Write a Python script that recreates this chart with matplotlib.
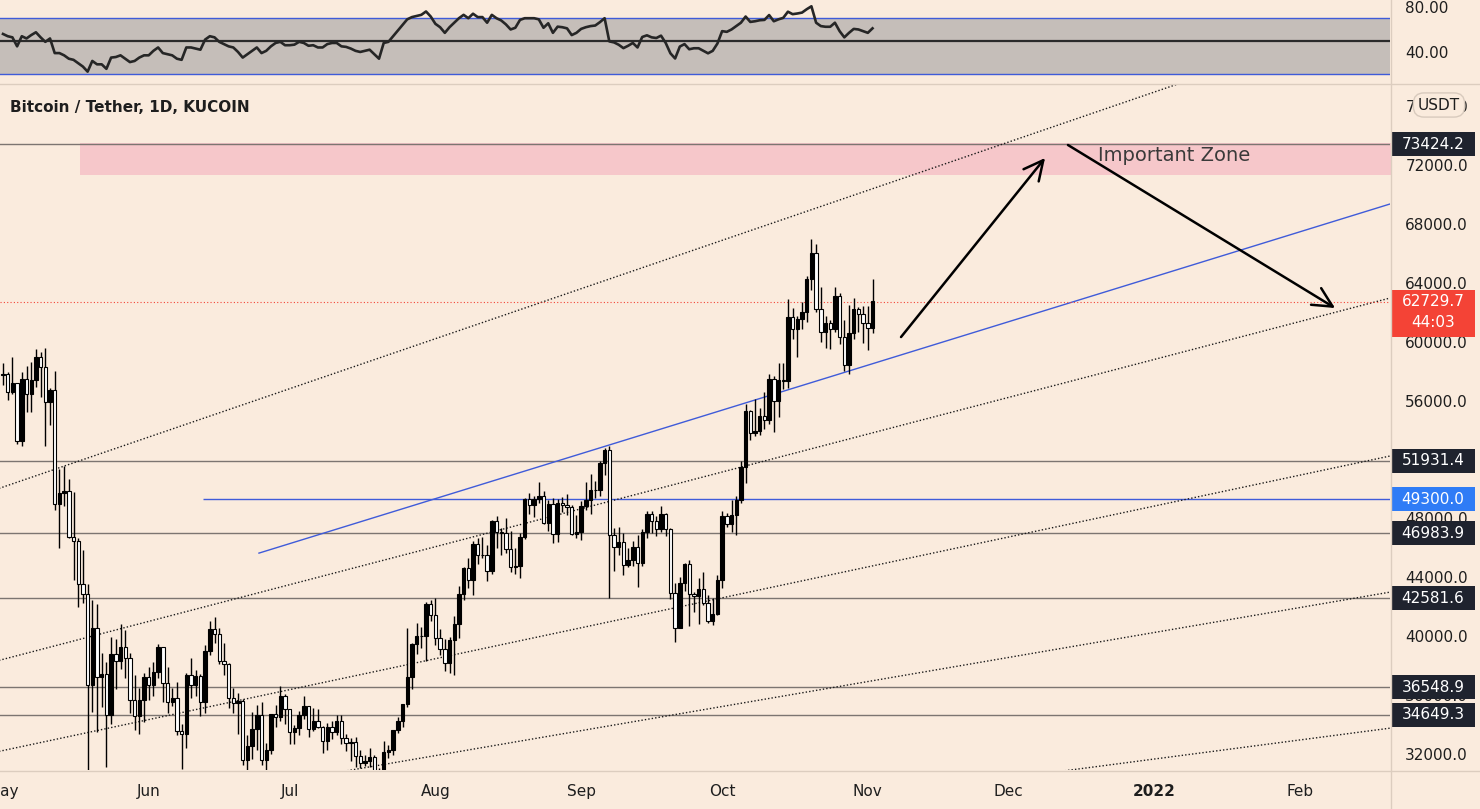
import numpy as np
import pandas as pd
import matplotlib
matplotlib.use("Agg")
import matplotlib.pyplot as plt
import matplotlib.dates as mdates
import matplotlib.transforms as mtransforms
from matplotlib.lines import Line2D
from matplotlib.patches import Rectangle
from matplotlib.ticker import FormatStrFormatter

# ---- daily candles, BTC/USDT from 2021-05-01 ----
start_date = "2021-05-01"
first_open = 57714
close = [57828, 56610, 57213, 53241, 57473, 56428, 57380, 58929, 58280, 55883, 56750, 49007, 49716, 49880, 46760, 46456,
         43538, 42850, 36690, 40526, 37252, 37449, 34655, 38796, 38324, 39241, 38529, 35663, 34605, 35641, 37253,
         36693, 37568, 39246, 36829, 35513, 35796, 33552, 33380, 37389, 36662, 37323, 35546, 39020, 40516, 40144,
         38349, 38092, 35819, 35483, 35600, 31608, 32509, 33678, 34663, 31584, 32283, 34700, 34494, 35911, 35045,
         33504, 33786, 34669, 35286, 33690, 34220, 33862, 32875, 33815, 33502, 34259, 33087, 32730, 32820, 31880,
         31383, 31520, 31778, 30839, 29790, 32144, 32287, 33635, 34258, 35381, 37237, 39457, 40019, 40016, 42206, 41461,
         39845, 39147, 38207, 39723, 40862, 42836, 44614, 43792, 46285, 45543, 45530, 44428, 47833, 47096, 47019,
         45936, 44686, 44741, 46723, 49339, 48905, 49321, 49546, 47707, 48960, 46942, 49059, 48896, 48767, 46971, 47101,
         48811, 49247, 49942, 49921, 51770, 52668, 46855, 46071, 46370, 44839, 45156, 46039, 44963, 47093, 48317,
         47810, 47265, 48278, 47260, 42964, 40583, 43611, 44897, 42840, 42717, 43212, 42236, 41035, 41525, 43825,
         48141, 47634, 48200, 49224, 51471, 55315, 53785, 53951, 54949, 54659, 57471, 56005, 57367, 57347, 61672,
         60875, 61528, 62009, 64280, 66001, 62193, 60688, 61286, 60852, 63078, 60328, 58413, 60575, 62253, 61859, 61300,
         60911, 62730]
high = [58550, 57950, 58981, 57214, 57939, 58360, 58650, 59500, 59300, 59592, 56862, 58000, 51367, 51560, 50700, 49800,
        46644, 45832, 43546, 42451, 42200, 38829, 38270, 39920, 39791, 40841, 40411, 38856, 37338, 36488, 37499,
        37894, 38225, 39476, 39289, 37925, 36480, 36900, 34068, 37534, 38491, 37680, 37463, 39380, 41064, 41330,
        40527, 39559, 38200, 36457, 36137, 35750, 33298, 34881, 35298, 35500, 32730, 34750, 35297, 36600, 36100,
        35057, 33977, 34945, 35967, 35293, 35118, 35059, 33929, 34100, 34262, 34666, 34679, 33340, 33114, 33185,
        32249, 31955, 32435, 31899, 31063, 32858, 32591, 33650, 34500, 35398, 40550, 39542, 40900, 40640, 42316, 42448,
        42599, 40459, 39780, 39969, 41350, 43392, 44700, 45310, 46454, 46700, 46743, 46218, 47886, 48144, 47372,
        48053, 47160, 46000, 47033, 49382, 49757, 49500, 50500, 49875, 49229, 49368, 49300, 49475, 49666, 48893, 48246,
        49150, 50450, 51000, 50558, 51900, 52780, 52920, 47353, 47400, 47036, 45987, 46460, 46880, 47250, 48475,
        48500, 48148, 48844, 48372, 47329, 43639, 44000, 44978, 45200, 42970, 43950, 44350, 42787, 42600, 44132,
        48495, 48336, 49228, 49536, 51886, 55750, 55332, 56100, 55490, 56561, 57839, 57680, 58532, 58570, 62933,
        62300, 61718, 62695, 64486, 67000, 66639, 63732, 61747, 61500, 63710, 63293, 61496, 62499, 62980, 62359, 62405,
        62437, 64270]
low = [57050, 56035, 56435, 53046, 52900, 55200, 55241, 56956, 56235, 52900, 54370, 48600, 46000, 48829, 46650, 43825,
       42001, 42250, 30000, 34850, 33488, 35200, 31111, 34031, 36419, 37800, 37134, 34779, 33632, 33380, 34153,
       35667, 35920, 37170, 35555, 34800, 35258, 33300, 31000, 32396, 35782, 35936, 34600, 34757, 38730, 39506,
       38116, 37365, 35129, 34803, 33336, 31251, 28805, 31683, 32286, 31275, 30151, 32018, 33862, 34225, 34017,
       32712, 32700, 33316, 34357, 33125, 33532, 33777, 32077, 32261, 33004, 33306, 32658, 32202, 31550, 31133,
       31020, 31164, 31109, 30407, 29278, 29482, 31708, 31924, 33401, 33851, 35205, 36383, 38772, 39200, 38313, 41000,
       39422, 38690, 37642, 37508, 37332, 39853, 42446, 43261, 42779, 44936, 45341, 43770, 44217, 45971, 45500,
       45660, 44376, 44203, 43927, 46616, 48271, 48085, 49029, 47600, 47123, 46315, 46371, 48432, 48240, 46857, 46700,
       46513, 48584, 48316, 49400, 49500, 50969, 42600, 44412, 45514, 44139, 44722, 44743, 43370, 44750, 46700,
       47016, 46800, 47050, 46829, 42500, 39600, 40565, 43089, 40675, 41675, 40800, 42111, 40888, 40753, 41410,
       43283, 47430, 47088, 46891, 49022, 50382, 53357, 53617, 53661, 54080, 54415, 53879, 54870, 56818, 56850,
       60150, 58963, 60890, 61322, 63481, 62000, 60000, 59562, 59510, 60650, 59817, 58000, 57820, 60174, 60673, 59945,
       59405, 60624]

# RSI pane, one value per candle
rsi = [56, 54, 53, 45, 54, 52, 55, 57.5, 53, 49, 52, 39, 39, 37, 34, 33, 30, 27, 22.5, 32, 29, 29, 25, 35, 35.5, 37,
       34, 31, 32, 35, 37,
       37, 41, 44, 39, 38, 37, 34, 33, 44, 44, 43, 42, 51, 54, 53, 49, 47, 45, 44, 40, 35, 38, 41, 44, 39, 41, 45,
       48, 49, 46,
       46, 46.5, 49, 48, 45.5, 46, 44, 44, 47, 48, 48, 45, 44.5, 43, 41, 40, 41, 42, 38, 34, 48, 49, 54, 59, 64, 69,
       71, 72, 73, 76, 71.5,
       65, 62, 57, 62, 66, 70, 73, 70, 74, 71, 71, 66, 73, 70, 68, 64.5, 60, 61.5, 68.5, 70, 70, 70, 69, 61.5, 65.5,
       57, 62.5, 62, 61, 55, 57,
       60.5, 62, 63, 63.5, 66.5, 70, 49.4, 48.5, 46.4, 43.4, 45.5, 48, 44, 53.3, 54.8, 53, 52.4, 54.5, 48, 38.8, 34.2,
       44.8, 47, 42.4, 43.3, 43.3, 41, 38.8, 41, 47.5,
       58.5, 57.9, 60, 63, 66, 71.5, 66.7, 67.3, 68.2, 68.5, 72.8, 67.3, 69, 70.3, 75.8, 73.6, 74.2, 75, 78, 80.6, 66,
       63, 62.4, 62.4, 66, 58.5, 53, 57, 60.5, 60, 58.5,
       57, 61]
rsi_bands = [70, 20]
rsi_mid = 50

# drawings
gray_levels = [73424.2, 51931.4, 46983.9, 42581.6, 36548.9, 34649.3]
blue_level = 49300.0
blue_level_start = "2021-06-12 13:00"
last_price = 62729.7
countdown = "44:03"

zone_start = "2021-05-17 10:00"
zone_end = "2022-02-25"
zone_low, zone_high = 71320, 73490

trend_dates = ["2021-06-24 11:00", "2022-02-21"]
trend_prices = [45643, 69440]

fan_dates = ["2021-04-30", "2022-02-21"]
fan_a = [50019, 82544]
fan_b = [38345, 63039]
fan_c = [32168, 52297]
fan_d = [26807, 43042]
fan_e = [21377, 33792]

arrow_up_dates = ["2021-11-08 01:30", "2021-12-08 17:00"]
arrow_up_prices = [60316, 72476]
arrow_down_dates = ["2021-12-13 14:00", "2022-02-08 10:00"]
arrow_down_prices = [73359, 62286]
zone_label_date = "2021-12-20"
zone_label_price = 72679

month_ticks = pd.date_range("2021-05-01", "2022-02-01", freq="MS")
month_labels = ["May", "Jun", "Jul", "Aug", "Sep", "Oct", "Nov", "Dec", "2022", "Feb"]

# ---- colours ----
bg = "#faebdd"
blue = "#3f5bd9"
gray_line = "#7c7571"
pink = "#f6c7ca"
sep = "#dccdbf"
txt = "#1e1e1e"
dark_box = "#1f232e"
red_box = "#f44336"
blue_box = "#2f7cf6"

W, H = 1480, 809


def px_rect(x0, y0, x1, y1):
    return [x0 / W, 1 - y1 / H, (x1 - x0) / W, (y1 - y0) / H]


fig = plt.figure(figsize=(W / 100, H / 100), dpi=100)
fig.patch.set_facecolor(bg)
ax_rsi = fig.add_axes(px_rect(0, 0, 1390, 83))
ax = fig.add_axes(px_rect(0, 85, 1390, 770))

t0 = mdates.date2num(pd.Timestamp(start_date))
xlim = (t0 - 0.64, t0 + 295.1)
dn = lambda s: mdates.date2num(pd.Timestamp(s))

for a in (ax, ax_rsi):
    a.set_facecolor(bg)
    for s in a.spines.values():
        s.set_visible(False)
    a.set_xlim(*xlim)

# ---- RSI pane ----
x = mdates.date2num(pd.date_range(start_date, periods=len(close)))
ax_rsi.set_ylim(12.4, 86.2)
ax_rsi.axhspan(rsi_bands[1], rsi_bands[0], color="#c5beb9", lw=0, zorder=0)
for b in rsi_bands:
    ax_rsi.axhline(b, color=blue, lw=1, zorder=1)
ax_rsi.axhline(rsi_mid, color="#2b2b2b", lw=1.6, zorder=1)
ax_rsi.plot(x, rsi, color="#262626", lw=1.9, zorder=2)
ax_rsi.set_xticks([])
ax_rsi.yaxis.tick_right()
ax_rsi.set_yticks([40, 80])
ax_rsi.set_yticklabels(["40.00", "80.00"])
ax_rsi.tick_params(axis="y", length=0, pad=11, labelsize=11, labelcolor=txt)

# ---- price pane ----
ax.set_ylim(30913, 77433)
ax.fill_between([dn(zone_start), dn(zone_end)], zone_low, zone_high, color=pink, lw=0, zorder=0)
for lv in gray_levels:
    ax.axhline(lv, color=gray_line, lw=1, zorder=1)
ax.hlines(blue_level, dn(blue_level_start), xlim[1] + 5, color=blue, lw=1, zorder=1)
ax.plot([dn(d) for d in trend_dates], trend_prices, color=blue, lw=1, zorder=1)
for fp in (fan_a, fan_b, fan_c, fan_d, fan_e):
    ax.plot([dn(d) for d in fan_dates], fp, color="#1a1a1a", lw=1, ls=(0, (1, 1.5)), zorder=1)
ax.axhline(last_price, color=red_box, lw=0.8, ls=(0, (1, 2)), zorder=1)

o = np.array([first_open] + close[:-1], dtype=float)
c = np.array(close, dtype=float)
up = c >= o
ax.vlines(x, low, high, color="black", lw=1, zorder=3)
ax.bar(x[up], (c - o)[up], bottom=o[up], width=0.72, color="black", edgecolor="black", lw=0.8, zorder=4)
ax.bar(x[~up], (o - c)[~up], bottom=c[~up], width=0.72, color="white", edgecolor="black", lw=0.8, zorder=4)

arrow_kw = dict(arrowstyle="->,head_length=0.7,head_width=0.35", color="black", lw=1.8,
                shrinkA=0, shrinkB=0, mutation_scale=20)
ax.annotate("", xy=(dn(arrow_up_dates[1]), arrow_up_prices[1]),
            xytext=(dn(arrow_up_dates[0]), arrow_up_prices[0]), arrowprops=arrow_kw, zorder=6)
ax.annotate("", xy=(dn(arrow_down_dates[1]), arrow_down_prices[1]),
            xytext=(dn(arrow_down_dates[0]), arrow_down_prices[0]), arrowprops=arrow_kw, zorder=6)
ax.text(dn(zone_label_date), zone_label_price, "Important Zone", fontsize=14, color="#3a3a3a",
        va="center", ha="left", zorder=6)

# axes ticks
ax.yaxis.tick_right()
ax.set_yticks(np.arange(32000, 76001, 4000))
ax.yaxis.set_major_formatter(FormatStrFormatter("%.1f"))
ax.tick_params(axis="y", length=0, pad=11, labelsize=11, labelcolor=txt)
ax.set_xticks(mdates.date2num(month_ticks))
ax.set_xticklabels(month_labels)
ax.tick_params(axis="x", length=0, pad=10, labelsize=11, labelcolor=txt)
for lab in ax.get_xticklabels():
    if lab.get_text() == "2022":
        lab.set_fontweight("bold")

# price labels on the scale
trans = mtransforms.blended_transform_factory(ax.transAxes, ax.transData)
ppx = (77433 - 30913) / 685.0
bx0, bw, bxc = 1391 / 1390, 84 / 1390, 1433 / 1390


def scale_box(price, color, top_px=12, bottom_px=12):
    ax.add_patch(Rectangle((bx0, price - bottom_px * ppx), bw, (top_px + bottom_px) * ppx,
                           transform=trans, color=color, clip_on=False, zorder=10, lw=0))
    ax.text(bxc, price, "%.1f" % price, transform=trans, color="white", fontsize=11,
            ha="center", va="center", zorder=11, clip_on=False)


for lv in gray_levels:
    scale_box(lv, dark_box)
scale_box(blue_level, blue_box)
scale_box(last_price, red_box, top_px=12, bottom_px=35)
ax.text(bxc, last_price - 21 * ppx, countdown, transform=trans, color="white", fontsize=11,
        ha="center", va="center", zorder=11, clip_on=False)

# header text and currency badge
fig.text(10 / W, 1 - 107 / H, "Bitcoin / Tether, 1D, KUCOIN", fontsize=11, fontweight="bold",
         color=txt, va="center", ha="left")
fig.text(1439 / W, 1 - 105 / H, "USDT", fontsize=11, color=txt, va="center", ha="center",
         bbox=dict(boxstyle="round,pad=0.3,rounding_size=0.7", fc=bg, ec="#d8cabd", lw=1))

# pane separators
fig.add_artist(Line2D([0, 1], [1 - 84 / H] * 2, transform=fig.transFigure, color=sep, lw=1))
fig.add_artist(Line2D([0, 1], [1 - 770.5 / H] * 2, transform=fig.transFigure, color=sep, lw=1))
fig.add_artist(Line2D([1390.5 / W] * 2, [0, 1], transform=fig.transFigure, color=sep, lw=1))

fig.savefig("out.png", dpi=100, facecolor=bg)
